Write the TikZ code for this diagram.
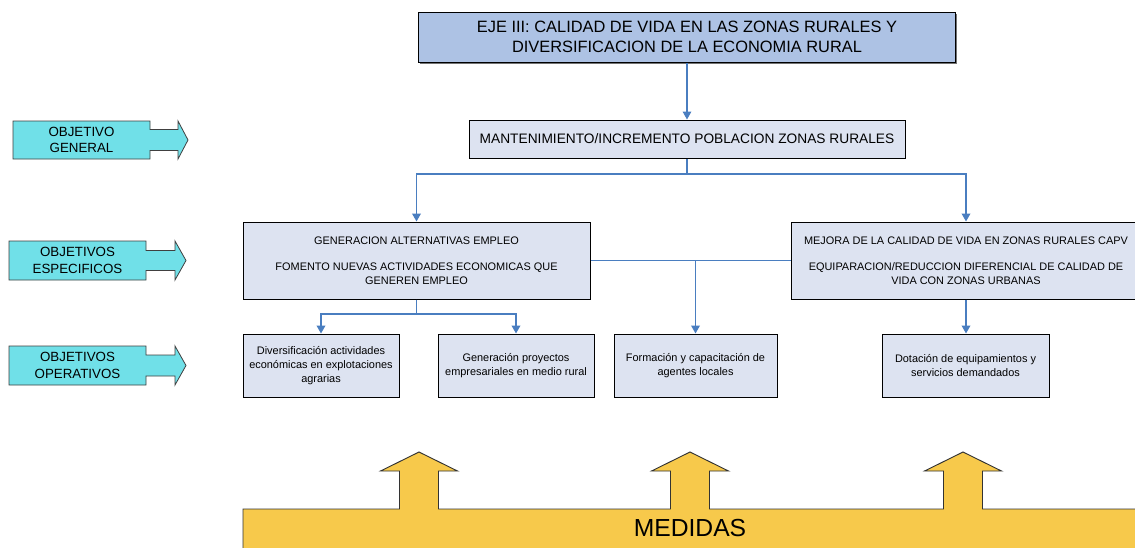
\documentclass[tikz,border=0pt]{standalone}
\usepackage{fontspec}
\setmainfont{Liberation Sans}
\usetikzlibrary{arrows.meta,shadows}
\definecolor{titlefill}{HTML}{ADC2E4}
\definecolor{boxfill}{HTML}{DDE3F1}
\definecolor{connblue}{HTML}{4A7EC0}
\definecolor{cyanfill}{HTML}{70E0E8}
\definecolor{yellowfill}{HTML}{F7C94B}
\newcommand{\objarrow}[9]{%
  \draw[sidearr] (#1,#5) -- (#2,#5) -- (#2,{#5+#7}) -- (#3,{#5+#7}) -- (#3,#5) -- (#4,{(#5+#6)/2}) -- (#3,#6) -- (#3,{#6-#7}) -- (#2,{#6-#7}) -- (#2,#6) -- (#1,#6) -- cycle;
  \node[sidetext] (#8) at ({(#1+#2)/2},{(#5+#6)/2}) {#9};}
\begin{document}
\begin{tikzpicture}[x=0.75pt,y=-0.75pt,
  box/.style={draw=black, line width=0.75pt, fill=boxfill, inner sep=0pt, align=center, font=\fontsize{8.2}{10.5}\selectfont},
  conn/.style={draw=connblue, line width=1.1pt},
  thinconn/.style={draw=connblue, line width=0.8pt},
  arr/.style={conn, -{Triangle[length=6pt,width=6.5pt]}},
  thinarr/.style={thinconn, -{Triangle[length=6pt,width=6.5pt]}},
  sidearr/.style={draw=black!75, line width=0.6pt, fill=cyanfill},
  sidetext/.style={align=center, inner sep=0pt, font=\fontsize{10}{12.5}\selectfont},
  yellowshape/.style={draw=black!80, line width=0.7pt, fill=yellowfill}]
\useasboundingbox (0,0) rectangle (1135,547);
\fill[white] (0,0) rectangle (1135,547);
\clip (0,0) rectangle (1135,547);

% top
\node[box, fill=titlefill, minimum width=402.75pt, minimum height=37.5pt,
      font=\fontsize{12.3}{15}\selectfont,
      drop shadow={shadow xshift=1pt, shadow yshift=-1.2pt, fill=black!55, opacity=1}]
  (title) at (687,37) {EJE III: CALIDAD DE VIDA EN LAS ZONAS RURALES Y\\DIVERSIFICACION DE LA ECONOMIA RURAL};
\node[box, minimum width=327pt, minimum height=28.5pt, font=\fontsize{10.3}{12}\selectfont]
  (mant) at (687,139) {MANTENIMIENTO/INCREMENTO POBLACION ZONAS RURALES};

% specific
\node[box, minimum width=260.25pt, minimum height=57.75pt] (espl) at (416.5,260.5)
  {GENERACION ALTERNATIVAS EMPLEO\\[9pt]FOMENTO NUEVAS ACTIVIDADES ECONOMICAS QUE\\GENEREN EMPLEO};
\node[box, minimum width=262.5pt, minimum height=57.75pt] (espr) at (966,260.5)
  {MEJORA DE LA CALIDAD DE VIDA EN ZONAS RURALES CAPV\\[9pt]EQUIPARACION/REDUCCION DIFERENCIAL DE CALIDAD DE\\VIDA CON ZONAS URBANAS};

% operative
\node[box, minimum width=117pt, minimum height=47.25pt] (op1) at (321,365.5)
  {Diversificación actividades\\económicas en explotaciones\\agrarias};
\node[box, minimum width=117pt, minimum height=47.25pt] (op2) at (516,365.5)
  {Generación proyectos\\empresariales en medio rural};
\node[box, minimum width=122.25pt, minimum height=47.25pt] (op3) at (695.5,365.5)
  {Formación y capacitación de\\agentes locales};
\node[box, minimum width=125.25pt, minimum height=47.25pt] (op4) at (965.5,365.5)
  {Dotación de equipamientos y\\servicios demandados};

% connectors
\draw[thinarr] (title.south) -- (mant.north);
\coordinate (j1) at (687,174);
\draw[conn] (mant.south) -- (j1);
\draw[arr] (j1) -| (espl.north);
\draw[arr] (j1) -| (espr.north);
\draw[conn] (espl.east) -- (espr.west);
\draw[arr] (espl.east -| op3.north) -- (op3.north);
\coordinate (j2) at (416.5,314);
\draw[conn] (espl.south) -- (j2);
\draw[arr] (j2) -| (op1.north);
\draw[arr] (j2) -| (op2.north);
\draw[arr] (espr.south) -- (espr.south |- op4.north);

% side arrows
\objarrow{13}{150}{178}{188}{121}{159}{8.5}{ogen}{OBJETIVO\\GENERAL}
\objarrow{9}{146}{175}{186}{241}{280}{9.5}{oesp}{OBJETIVOS\\ESPECIFICOS}
\objarrow{9}{146}{175}{186}{346}{385}{9}{oope}{OBJETIVOS\\OPERATIVOS}

% medidas
\draw[yellowshape] (243,509)
  -- (399.5,509) -- (399.5,471) -- (380.5,471) -- (419,452) -- (457.5,471) -- (438.5,471) -- (438.5,509)
  -- (670.5,509) -- (670.5,471) -- (651.5,471) -- (690,452) -- (728.5,471) -- (709.5,471) -- (709.5,509)
  -- (943.5,509) -- (943.5,471) -- (924.5,471) -- (963,452) -- (1001.5,471) -- (982.5,471) -- (982.5,509)
  -- (1145,509) -- (1145,555) -- (243,555) -- cycle;
\node[inner sep=0pt, font=\fontsize{18.5}{20}\selectfont] (medidas) at (690,527.5) {MEDIDAS};
\end{tikzpicture}
\end{document}
